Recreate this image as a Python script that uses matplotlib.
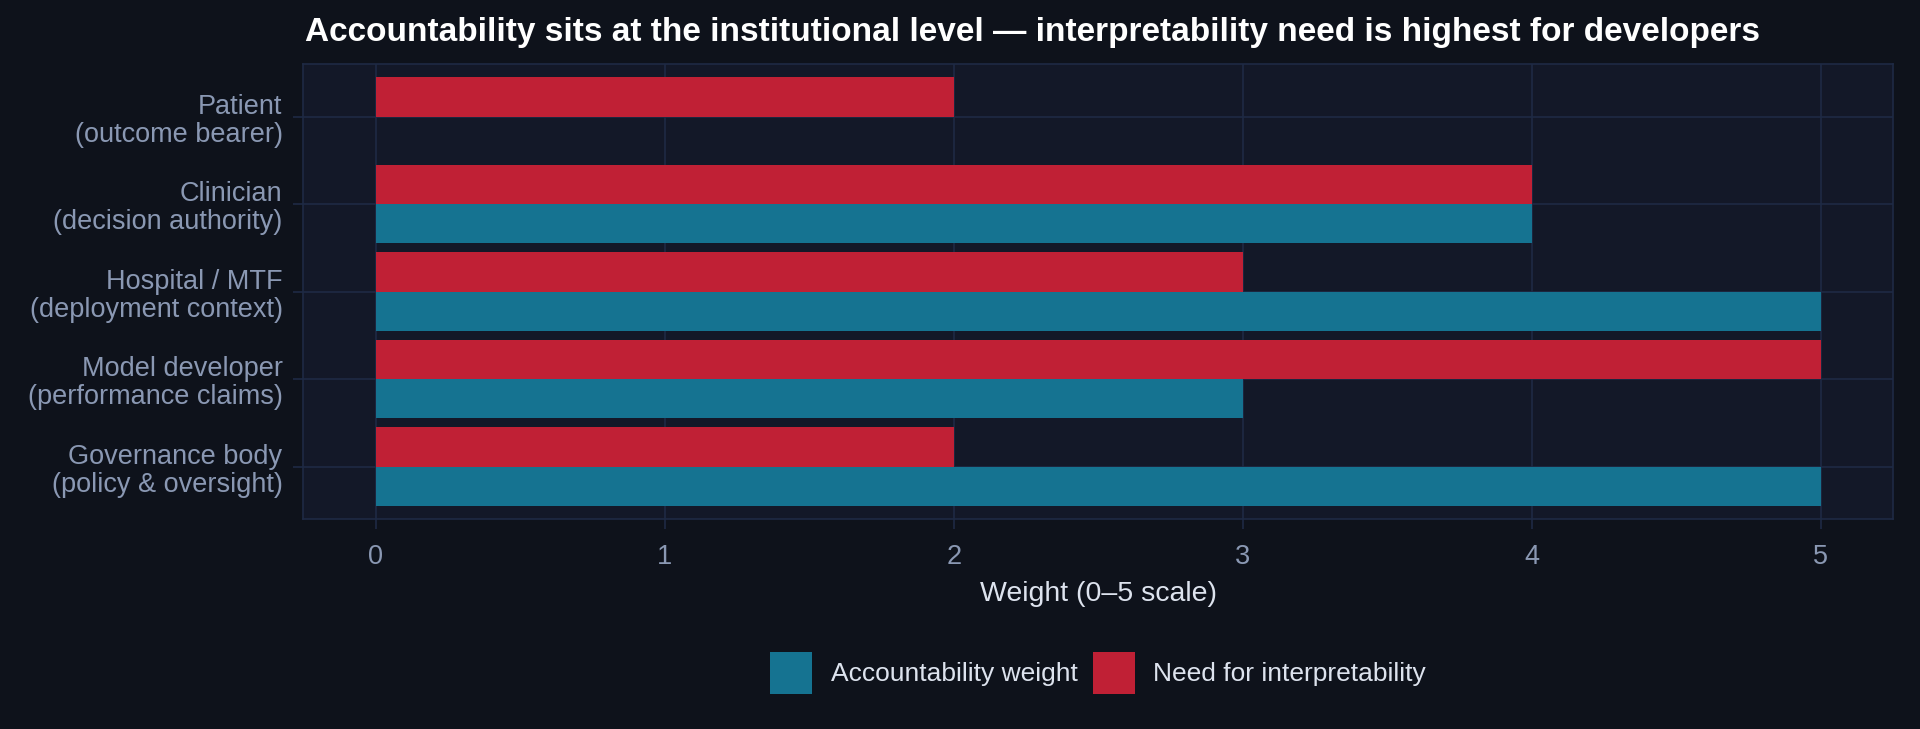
import matplotlib
matplotlib.use("Agg")
import matplotlib.pyplot as plt
import numpy as np
from matplotlib.patches import Patch

plt.rcParams['font.family'] = ['Liberation Sans', 'DejaVu Sans']

# data
roles = ['Patient\n(outcome bearer)', 'Clinician\n(decision authority)',
         'Hospital / MTF\n(deployment context)', 'Model developer\n(performance claims)',
         'Governance body\n(policy & oversight)']
accountability = [0, 4, 5, 3, 5]
interpretability = [2, 4, 3, 5, 2]
xticks = [0, 1, 2, 3, 4, 5]

bg = '#0e121b'
panel = '#131828'
grid = '#1e2a44'
teal = '#157391'
red = '#c02035'
tick_col = '#8a98b3'
text_col = '#dde3ee'

fig = plt.figure(figsize=(19.2, 7.29), dpi=100, facecolor=bg)
ax = fig.add_axes([0.158, 0.288, 0.828, 0.624])
ax.set_facecolor(panel)

y = np.arange(len(roles))
h = 0.45
ax.barh(y + h / 2, accountability, height=h, color=teal, zorder=3)
ax.barh(y - h / 2, interpretability, height=h, color=red, zorder=3)

ax.set_xlim(-0.25, 5.25)
ax.set_ylim(len(roles) - 0.4, -0.6)
ax.set_xticks(xticks)
ax.set_yticks(y)
ax.set_yticklabels(roles, fontsize=19.5, color=tick_col, linespacing=1.1)
ax.set_xticklabels([str(t) for t in xticks], fontsize=19.5, color=tick_col)
ax.grid(True, color=grid, linewidth=1.2, zorder=0)
ax.tick_params(colors=grid, length=7, width=1.2, pad=8)
ax.tick_params(axis='x', pad=11)
for lab in ax.get_xticklabels() + ax.get_yticklabels():
    lab.set_color(tick_col)
for s in ax.spines.values():
    s.set_color(grid)
    s.set_linewidth(1.2)

ax.set_xlabel('Weight (0\u20135 scale)', fontsize=20.5, color=text_col, labelpad=8)

fig.text(0.159, 0.955, 'Accountability sits at the institutional level \u2014 interpretability need is highest for developers',
         fontsize=24, fontweight='bold', color='white', ha='left', va='center')

handles = [Patch(facecolor=teal, label='Accountability weight'),
           Patch(facecolor=red, label='Need for interpretability')]
fig.legend(handles=handles, loc='center', bbox_to_anchor=(0.572, 0.077), ncol=2,
           frameon=False, fontsize=19, handlelength=1.58, handleheight=2.06,
           handletextpad=0.7, columnspacing=0.6, labelcolor=text_col)

fig.savefig('out.png', dpi=100, facecolor=bg)
